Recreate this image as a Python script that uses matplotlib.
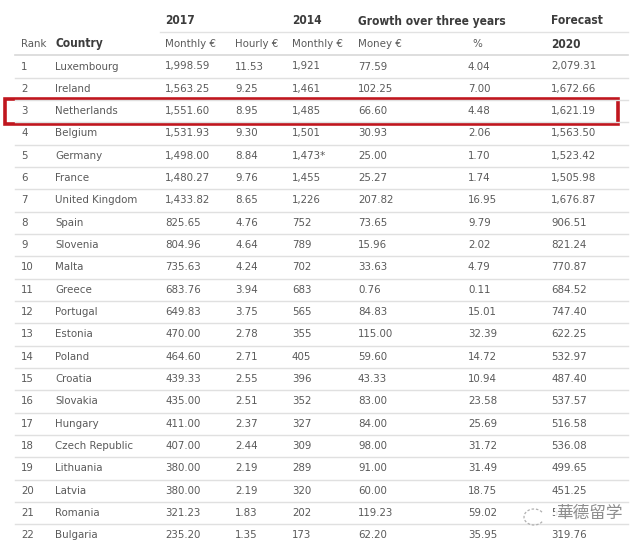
import matplotlib
matplotlib.use("Agg")
import matplotlib.pyplot as plt
from matplotlib.patches import Rectangle, Arc

ranks = list(range(1, 23))
countries = ["Luxembourg", "Ireland", "Netherlands", "Belgium", "Germany", "France",
             "United Kingdom", "Spain", "Slovenia", "Malta", "Greece", "Portugal",
             "Estonia", "Poland", "Croatia", "Slovakia", "Hungary", "Czech Republic",
             "Lithuania", "Latvia", "Romania", "Bulgaria"]
monthly_2017 = [1998.59, 1563.25, 1551.60, 1531.93, 1498.00, 1480.27, 1433.82, 825.65,
                804.96, 735.63, 683.76, 649.83, 470.00, 464.60, 439.33, 435.00, 411.00,
                407.00, 380.00, 380.00, 321.23, 235.20]
hourly_2017 = [11.53, 9.25, 8.95, 9.30, 8.84, 9.76, 8.65, 4.76, 4.64, 4.24, 3.94, 3.75,
               2.78, 2.71, 2.55, 2.51, 2.37, 2.44, 2.19, 2.19, 1.83, 1.35]
monthly_2014 = ["1,921", "1,461", "1,485", "1,501", "1,473*", "1,455", "1,226", "752",
                "789", "702", "683", "565", "355", "405", "396", "352", "327", "309",
                "289", "320", "202", "173"]
growth_money = [77.59, 102.25, 66.60, 30.93, 25.00, 25.27, 207.82, 73.65, 15.96, 33.63,
                0.76, 84.83, 115.00, 59.60, 43.33, 83.00, 84.00, 98.00, 91.00, 60.00,
                119.23, 62.20]
growth_pct = [4.04, 7.00, 4.48, 2.06, 1.70, 1.74, 16.95, 9.79, 2.02, 4.79, 0.11, 15.01,
              32.39, 14.72, 10.94, 23.58, 25.69, 31.72, 31.49, 18.75, 59.02, 35.95]
# Romania's forecast is mostly hidden under the watermark in the source
forecast_2020 = [2079.31, 1672.66, 1621.19, 1563.50, 1523.42, 1505.98, 1676.87, 906.51,
                 821.24, 770.87, 684.52, 747.40, 622.25, 532.97, 487.40, 537.57, 516.58,
                 536.08, 499.65, 451.25, 510.82, 319.76]
highlight = "Netherlands"

fig = plt.figure(figsize=(6.4, 5.46), dpi=100)
ax = fig.add_axes([0, 0, 1, 1])
ax.set_xlim(0, 640)
ax.set_ylim(546, 0)
ax.axis("off")

txt = "#5a5a5a"
head = "#3c3c3c"
fs = 8.2
fam = "DejaVu Sans"
body = dict(fontsize=fs, color=txt, va="center", family=fam, fontstretch="condensed")
bold = dict(fontsize=fs + 0.4, color=head, va="center", family=fam, fontstretch="condensed",
            fontweight="bold")
col_x = [21, 55, 165, 235, 292, 358, 468, 551]

# header rows
ax.text(165, 21, "2017", **bold)
ax.text(292, 21, "2014", **bold)
ax.text(358, 21, "Growth over three years", **bold)
ax.text(551, 21, "Forecast", **bold)
ax.text(21, 44, "Rank", **body)
ax.text(55, 44, "Country", **bold)
for x, s in zip([165, 235, 292, 358, 472], ["Monthly €", "Hourly €", "Monthly €", "Money €", "%"]):
    ax.text(x, 44, s, **body)
ax.text(551, 44, "2020", **bold)

ax.plot([160, 628], [32, 32], color="#e2e2e2", lw=1)
ax.plot([15, 628], [55, 55], color="#d8d8d8", lw=1.2)

row0, dy = 66.5, 22.33
for i in range(len(ranks)):
    y = row0 + i * dy
    vals = [str(ranks[i]), countries[i], f"{monthly_2017[i]:,.2f}", f"{hourly_2017[i]:.2f}",
            monthly_2014[i], f"{growth_money[i]:,.2f}", f"{growth_pct[i]:.2f}",
            f"{forecast_2020[i]:,.2f}"]
    for x, s in zip(col_x, vals):
        ax.text(x, y, s, **body)
    if i < len(ranks) - 1:
        ax.plot([15, 628], [y + dy / 2, y + dy / 2], color="#e0e0e0", lw=1)
    if countries[i] == highlight:
        ax.add_patch(Rectangle((5, y - 12.5), 613, 25.5, fill=False,
                               edgecolor="#c0161e", lw=2.6))

# watermark
ax.add_patch(Arc((534, 517), 20, 16, theta1=30, theta2=330, color="#b0b0b0",
                 lw=0.9, ls=(0, (2, 1.5)), zorder=5))
ax.text(556, 513, "華德留学", fontsize=12, color="#8e8e8e", va="center", zorder=6,
        family=["Noto Sans CJK SC", "DejaVu Sans"],
        bbox=dict(boxstyle="square,pad=0.05", fc="white", ec="none", alpha=0.85))

fig.savefig("out.png", dpi=100, facecolor="white")
